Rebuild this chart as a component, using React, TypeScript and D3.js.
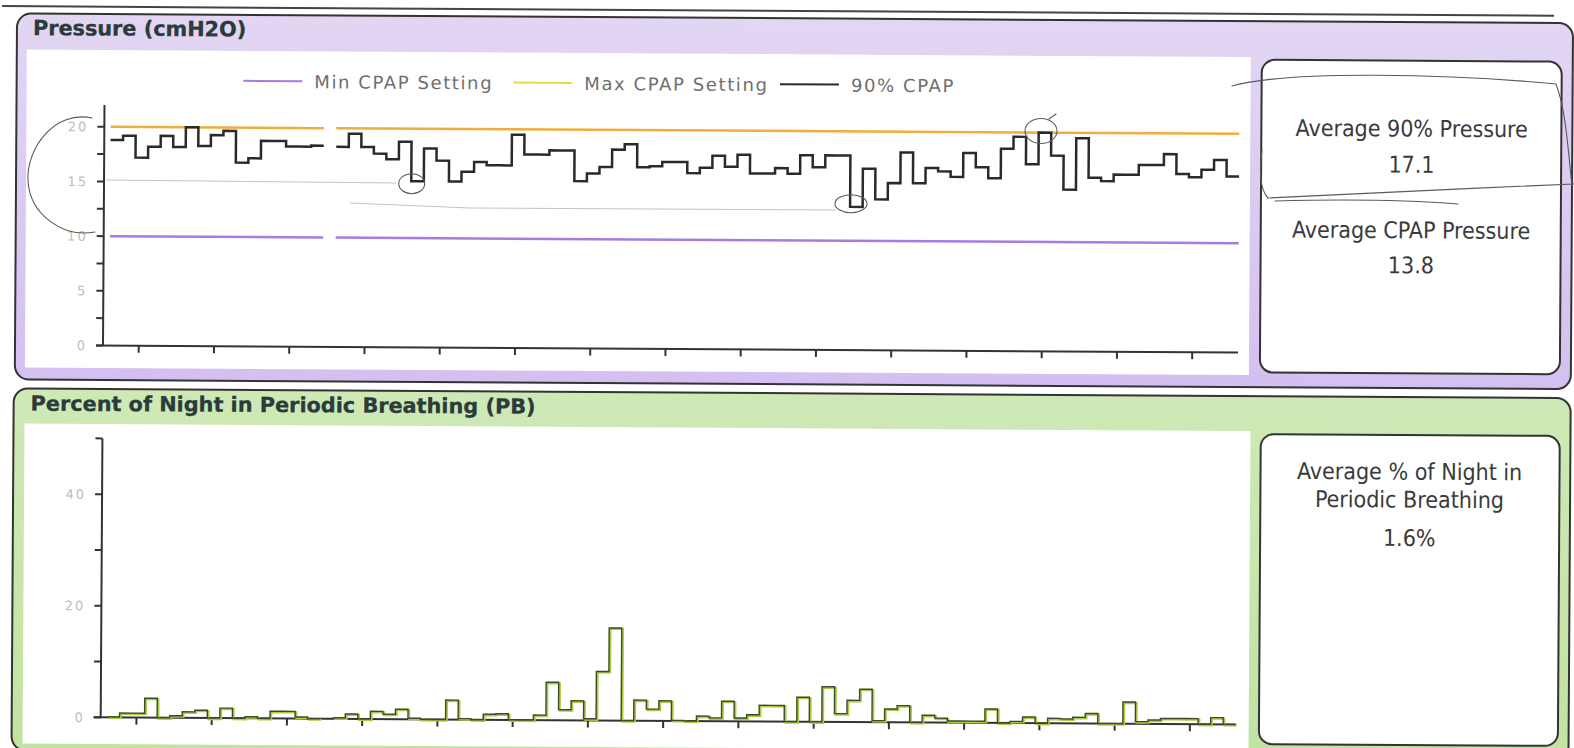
import React from "react";
import * as d3 from "d3";

// ---------- data (one value per night, 90 nights; null = no data) ----------
const DAY_COUNT = 90;

const cpap90Pressure: (number | null)[] = [
  18.8, 19.2, 17.2, 18.2, 19.2, 18.2, 20.0, 18.3, 19.3, 19.7,
  16.8, 17.2, 18.8, 18.8, 18.3, 18.3, 18.4, null, 18.3, 19.5,
  18.3, 17.7, 17.2, 18.8, 15.2, 18.2, 17.1, 15.2, 16.1, 17.0,
  16.7, 16.7, 19.5, 17.7, 17.7, 18.1, 18.1, 15.3, 16.0, 16.6,
  18.2, 18.7, 16.6, 16.7, 17.1, 17.1, 16.1, 16.6, 17.7, 16.7,
  17.8, 16.1, 16.1, 16.6, 16.1, 17.8, 16.7, 17.8, 17.8, 13.1,
  16.6, 13.8, 15.3, 18.1, 15.3, 16.7, 16.4, 15.9, 18.1, 16.8,
  15.8, 18.5, 19.6, 17.1, 20.0, 17.9, 14.8, 19.5, 15.9, 15.6,
  16.2, 16.2, 17.1, 17.1, 18.1, 16.3, 16.0, 16.7, 17.6, 16.1,
];

const periodicBreathingPct: (number | null)[] = [
  0.1, 0.8, 0.8, 3.5, 0, 0.4, 1.1, 1.4, 0, 1.8,
  0, 0.3, 0, 1.3, 1.3, 0.3, 0, null, 0.2, 0.9,
  0, 1.4, 0.9, 1.8, 0.2, 0, 0, 3.5, 0.2, 0,
  1.0, 1.1, 0, 0, 0.9, 6.8, 1.9, 3.5, 0.3, 8.8,
  16.6, 0, 3.7, 2.1, 3.6, 0.1, 0, 0.9, 0.6, 3.6,
  0.6, 1.2, 2.9, 2.9, 0, 4.4, 0, 6.3, 1.5, 3.9,
  5.9, 0.3, 2.4, 3.0, 0, 1.3, 0.8, 0.3, 0.3, 0.3,
  2.5, 0, 0.3, 1.1, 0, 0.9, 0.8, 1.1, 1.8, 0,
  0, 3.9, 0.4, 0.7, 1.0, 1.0, 1.0, 0, 1.2, 0,
];

const MIN_CPAP_SETTING = 10;
const MAX_CPAP_SETTING = 20;

const pressureTickLabels = [0, 5, 10, 15, 20];
const pressureMinorStep = 2.5;
const pbTicks = [0, 10, 20, 30, 40, 50];
const pbTickLabels = [0, 20, 40];
const xTickDays = [2.35, 8.35, 14.35, 20.35, 26.35, 32.35, 38.35, 44.35, 50.35, 56.35, 62.35, 68.35, 74.35, 80.35, 86.35];

const legendLabels = ["Min CPAP Setting", "Max CPAP Setting", "90% CPAP"];
const pressureStats = [
  { label: "Average 90% Pressure", value: "17.1" },
  { label: "Average CPAP Pressure", value: "13.8" },
];
const pbStatLabel = ["Average % of Night in", "Periodic Breathing"];
const pbStatValue = "1.6%";

const pressureTitle = "Pressure (cmH2O)";
const pbTitle = "Percent of Night in Periodic Breathing (PB)";

// ---------- style ----------
const C = {
  minLine: "#a47de2",
  maxLine: "#f0ac3e",
  maxLegend: "#e3da4c",
  cpapLine: "#2a2a2a",
  pbDark: "#3c4a2c",
  pbGreen: "#a9cd3c",
  axis: "#333",
  tickLabel: "#bdbdbd",
  title: "#2b3a3a",
  statText: "#3a3a3a",
  legendText: "#6e6e6e",
  pen: "#5a5a5a",
};
const TITLE_FONT = '"DejaVu Sans", Verdana, sans-serif';
const STAT_FONT = '"DejaVu Sans Condensed", "DejaVu Sans", sans-serif';

type Pt = [number, number];

function runsOf(values: (number | null)[]): Pt[][] {
  const out: Pt[][] = [];
  let cur: Pt[] | null = null;
  values.forEach((v, i) => {
    if (v == null) {
      if (cur) out.push(cur);
      cur = null;
      return;
    }
    if (!cur) cur = [];
    cur.push([i, v]);
  });
  if (cur) out.push(cur);
  // extend each run to the end of its last night (step-after)
  return out.map((r) => [...r, [r[r.length - 1][0] + 1, r[r.length - 1][1]] as Pt]);
}

export default function App() {
  const x = d3.scaleLinear().domain([-0.5, DAY_COUNT]).range([103, 1238]);
  const yP = d3.scaleLinear().domain([0, 22]).range([345.5, 104.9]);
  const yB = d3.scaleLinear().domain([0, 50]).range([717.4, 438.4]);

  const lineP = d3
    .line<Pt>()
    .x((d) => x(d[0]))
    .y((d) => yP(d[1]))
    .curve(d3.curveStepAfter);
  const lineB = d3
    .line<Pt>()
    .x((d) => x(d[0]))
    .y((d) => yB(d[1]))
    .curve(d3.curveStepAfter);

  const cpapRuns = runsOf(cpap90Pressure);
  const pbRuns = runsOf(periodicBreathingPct);
  const settingRun = (v: number) =>
    cpapRuns.map((r) => [[r[0][0], v], [r[r.length - 1][0], v]] as Pt[]);

  const pMinor = d3.range(0, 20 + 0.001, pressureMinorStep);

  const legendX = [241.7, 511.7, 778.3];
  const legendColors = [C.minLine, C.maxLegend, C.cpapLine];

  return (
    <svg
      width={1574}
      height={748}
      style={{ position: "absolute", left: 0, top: 0, background: "#fff" }}
    >
      <defs>
        <linearGradient id="gP" x1="0" y1="0" x2="0" y2="1">
          <stop offset="0" stopColor="#e2d6f3" />
          <stop offset="1" stopColor="#d4c0f0" />
        </linearGradient>
        <linearGradient id="gB" x1="0" y1="0" x2="0" y2="1">
          <stop offset="0" stopColor="#cfe9b6" />
          <stop offset="1" stopColor="#c0e3a2" />
        </linearGradient>
      </defs>
      <g transform="rotate(0.355 102 346)">
        {/* top rule */}
        <line x1={0} x2={1552} y1={6.7} y2={6.7} stroke="#444" strokeWidth={2} />

        {/* ===== Pressure panel ===== */}
        <rect x={15} y={14} width={1556} height={366} rx={14} fill="url(#gP)" stroke="#333" strokeWidth={2} />
        <text x={31} y={35.5} fontFamily={TITLE_FONT} fontWeight="bold" fontSize={20.8} fill={C.title} stroke={C.title} strokeWidth={0.3}>
          {pressureTitle}
        </text>
        <rect x={25} y={50} width={1224} height={318} fill="#fff" />
        <rect x={1260} y={52.6} width={300} height={312.7} rx={13} fill="#fff" stroke="#333" strokeWidth={2} />
        {pressureStats.map((s, i) => (
          <g key={s.label} fontFamily={STAT_FONT} fontSize={23} fill={C.statText} textAnchor="middle">
            <text x={1410.4} y={128.5 + i * 101.7}>{s.label}</text>
            <text x={1410.4} y={164.5 + i * 100.7}>{s.value}</text>
          </g>
        ))}

        {/* legend */}
        {legendLabels.map((lab, i) => (
          <g key={lab}>
            <line x1={legendX[i]} x2={legendX[i] + 59} y1={80} y2={80} stroke={legendColors[i]} strokeWidth={2} />
            <text
              x={legendX[i] + 71}
              y={87}
              fontFamily={TITLE_FONT}
              fontSize={18}
              letterSpacing={1.6}
              fill={C.legendText}
            >
              {lab}
            </text>
          </g>
        ))}

        {/* pressure axes */}
        <line x1={103} x2={103} y1={yP(22)} y2={yP(0)} stroke={C.axis} strokeWidth={2} />
        <line x1={96} x2={x(DAY_COUNT)} y1={yP(0)} y2={yP(0)} stroke={C.axis} strokeWidth={2} />
        {pMinor.map((t) => (
          <line key={t} x1={96} x2={103} y1={yP(t)} y2={yP(t)} stroke={C.axis} strokeWidth={2} />
        ))}
        {pressureTickLabels.map((t) => (
          <text
            key={t}
            x={87}
            y={yP(t)}
            dy="0.36em"
            textAnchor="end"
            fontFamily={TITLE_FONT}
            fontSize={13}
            letterSpacing={2}
            fill={C.tickLabel}
          >
            {t}
          </text>
        ))}
        {xTickDays.map((d) => (
          <line key={d} x1={x(d)} x2={x(d)} y1={yP(0)} y2={yP(0) + 7} stroke={C.axis} strokeWidth={2} />
        ))}

        {/* settings lines */}
        {settingRun(MAX_CPAP_SETTING).map((r, i) => (
          <path key={"mx" + i} d={lineP(r) || ""} fill="none" stroke={C.maxLine} strokeWidth={2.5} />
        ))}
        {settingRun(MIN_CPAP_SETTING).map((r, i) => (
          <path key={"mn" + i} d={lineP(r) || ""} fill="none" stroke={C.minLine} strokeWidth={2.5} />
        ))}
        {cpapRuns.map((r, i) => (
          <path key={"cp" + i} d={lineP(r) || ""} fill="none" stroke={C.cpapLine} strokeWidth={2.5} />
        ))}

        {/* ===== Periodic breathing panel ===== */}
        <rect x={14} y={389} width={1557} height={362} rx={14} fill="url(#gB)" stroke="#333" strokeWidth={2} />
        <text x={31} y={411} fontFamily={TITLE_FONT} fontWeight="bold" fontSize={20.8} fill={C.title} stroke={C.title} strokeWidth={0.3}>
          {pbTitle}
        </text>
        <rect x={25} y={424} width={1226} height={320} fill="#fff" />
        <rect x={1261.3} y={426.9} width={299} height={310} rx={13} fill="#fff" stroke="#333" strokeWidth={2} />
        <g fontFamily={STAT_FONT} fontSize={23} fill={C.statText} textAnchor="middle">
          <text x={1410.4} y={471.5}>{pbStatLabel[0]}</text>
          <text x={1410.4} y={499.5}>{pbStatLabel[1]}</text>
          <text x={1410.4} y={537.9}>{pbStatValue}</text>
        </g>

        <line x1={103} x2={103} y1={yB(50)} y2={yB(0)} stroke={C.axis} strokeWidth={2} />
        <line x1={96} x2={x(DAY_COUNT)} y1={yB(0)} y2={yB(0)} stroke={C.axis} strokeWidth={2} />
        {pbTicks.map((t) => (
          <line key={t} x1={96} x2={103} y1={yB(t)} y2={yB(t)} stroke={C.axis} strokeWidth={2} />
        ))}
        {pbTickLabels.map((t) => (
          <text
            key={t}
            x={87}
            y={yB(t)}
            dy="0.36em"
            textAnchor="end"
            fontFamily={TITLE_FONT}
            fontSize={13}
            letterSpacing={2}
            fill={C.tickLabel}
          >
            {t}
          </text>
        ))}
        {xTickDays.map((d) => (
          <line key={d} x1={x(d)} x2={x(d)} y1={yB(0)} y2={yB(0) + 7} stroke={C.axis} strokeWidth={2} />
        ))}
        {pbRuns.map((r, i) => (
          <g key={"pb" + i}>
            <path d={lineB(r) || ""} fill="none" stroke={C.pbGreen} strokeWidth={2.2} transform="translate(1.2,1)" />
            <path d={lineB(r) || ""} fill="none" stroke={C.pbDark} strokeWidth={1.4} />
          </g>
        ))}
      </g>

      {/* hand-written pen annotations on the scanned report */}
      <g fill="none" stroke={C.pen} strokeWidth={1.1} strokeLinecap="round">
        <path d="M 92 118 C 55 110, 26 148, 28 181 C 30 214, 62 238, 95 232" />
        <ellipse cx={411.7} cy={183.7} rx={13} ry={10} />
        <ellipse cx={851} cy={203.7} rx={16} ry={9} />
        <ellipse cx={1041} cy={131} rx={16} ry={12.5} />
        <path d="M 1049 119 L 1056 114" />
        <path d="M 1232 86 C 1290 70, 1450 74, 1556 84 C 1566 110, 1568 150, 1572 186" />
        <path d="M 1574 184 C 1470 188, 1340 195, 1268 198 C 1260 190, 1259 170, 1262 150" />
        <path d="M 1275 201 C 1350 199, 1420 201, 1458 204" />
      </g>
      <g fill="none" stroke="#c4c4c4" strokeWidth={1}>
        <path d="M 106 180 L 396 183" />
        <path d="M 350 203 L 470 208 L 836 210" />
      </g>
    </svg>
  );
}
